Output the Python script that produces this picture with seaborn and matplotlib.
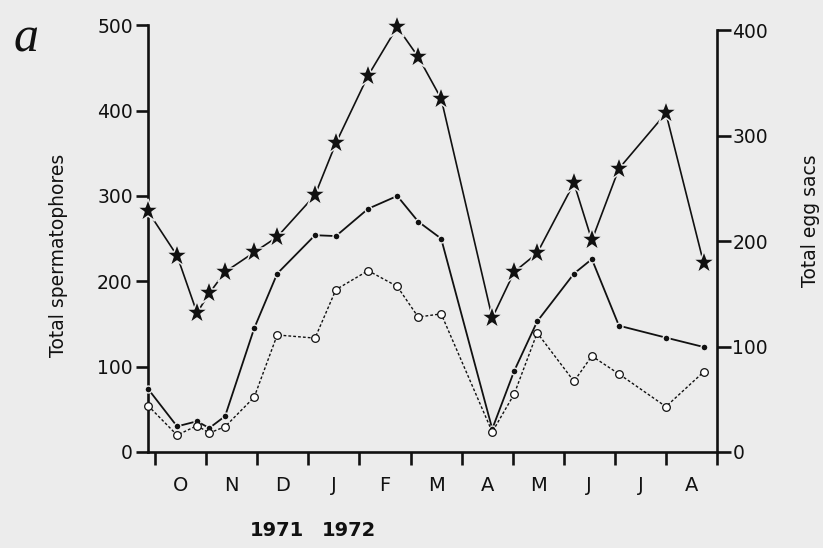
import numpy as np
import pandas as pd
import matplotlib
matplotlib.use("Agg")
import matplotlib.pyplot as plt
import seaborn as sns

# ---- data ----
# sampling positions in months after 1 Oct 1971 (0 = start of October)
sample_month = [-0.14, 0.43, 0.82, 1.06, 1.37, 1.94, 2.39, 3.13, 3.54, 4.17, 4.74,
                5.15, 5.60, 6.60, 7.03, 7.48, 8.20, 8.55, 9.08, 10.0, 10.74]
# star series (left axis, total spermatophores)
star_values = [282, 230, 163, 186, 211, 234, 252, 301, 362, 441, 498,
               463, 414, 157, 211, 233, 315, 248, 332, 397, 221]
# filled-circle series (left axis, total spermatophores)
filled_values = [74, 30, 36, 28, 42, 145, 209, 254, 253, 285, 300,
                 270, 250, 27, 95, 153, 209, 226, 148, 134, 123]
# open-circle series (right axis, total egg sacs)
open_values = [44, 16, 25, 18, 24, 52, 111, 108, 154, 172, 157,
               128, 131, 19, 55, 113, 67, 91, 74, 43, 76]

month_labels = ["O", "N", "D", "J", "F", "M", "A", "M", "J", "J", "A"]
left_ticks = [0, 100, 200, 300, 400, 500]
right_ticks = [0, 100, 200, 300, 400]
year_labels = ["1971", "1972"]

BG = "#ececec"
INK = "#111111"

sns.set_theme(style="ticks")
plt.rcParams["font.family"] = ["DejaVu Sans"]

df = pd.DataFrame({"month": sample_month, "stars": star_values,
                   "filled": filled_values, "open": open_values})

fig = plt.figure(figsize=(8.23, 5.48), dpi=100, facecolor=BG)
ax = fig.add_axes([0.1798, 0.1752, 0.6914, 0.7865])
ax.set_facecolor(BG)
ax2 = ax.twinx()
ax2.set_facecolor("none")

LEFT_TOP = 505
RATIO = 1.2354  # left units per right unit
ax.set_ylim(0, LEFT_TOP)
ax2.set_ylim(0, LEFT_TOP / RATIO)
ax.set_xlim(-0.14, 11.0)

sns.lineplot(data=df, x="month", y="stars", ax=ax, color=INK, linewidth=1.2,
             marker="*", markersize=17, markerfacecolor=INK,
             markeredgecolor=BG, markeredgewidth=1.1, clip_on=False, zorder=4)
sns.lineplot(data=df, x="month", y="filled", ax=ax, color=INK, linewidth=1.3,
             marker="o", markersize=5, markerfacecolor=INK,
             markeredgecolor=BG, markeredgewidth=1.0, clip_on=False, zorder=4)
sns.lineplot(data=df, x="month", y="open", ax=ax2, color=INK, linewidth=1.0,
             linestyle=(0, (2.0, 1.5)), marker="o", markersize=5.5,
             markerfacecolor="white", markeredgecolor=INK, markeredgewidth=0.9,
             clip_on=False, zorder=4)

# spines
for a in (ax, ax2):
    a.spines["top"].set_visible(False)
ax.spines["right"].set_visible(False)
ax2.spines["left"].set_visible(False)
ax2.spines["bottom"].set_visible(False)
for s in ("left", "bottom"):
    ax.spines[s].set_linewidth(1.9)
    ax.spines[s].set_color(INK)
ax2.spines["right"].set_linewidth(1.9)
ax2.spines["right"].set_color(INK)
ax.spines["left"].set_bounds(0, 500)
ax2.spines["right"].set_bounds(0, 400)

# y ticks
ax.set_yticks(left_ticks)
ax.tick_params(axis="y", direction="out", length=9, width=1.9, color=INK,
               labelsize=13.5, labelcolor=INK, pad=2)
ax2.set_yticks(right_ticks)
ax2.tick_params(axis="y", direction="out", length=10, width=1.9, color=INK,
                labelsize=13.5, labelcolor=INK, pad=1)

# x ticks: month boundaries, labels centred in months
ax.set_xticks(np.arange(0, 12, 1))
ax.set_xticklabels([])
ax.set_xticks(np.arange(0.5, 11, 1), minor=True)
ax.set_xticklabels(month_labels, minor=True)
ax.tick_params(axis="x", which="major", direction="out", length=9, width=1.9,
               color=INK)
ax.tick_params(axis="x", which="minor", length=0, pad=17, labelsize=14,
               labelcolor=INK)

ax.set_xlabel("")
ax.set_ylabel("Total spermatophores", fontsize=13.5, color=INK)
ax.yaxis.label.set_va("center")
ax.yaxis.set_label_coords(-0.158, 0.457)
ax2.set_ylabel("Total egg sacs", fontsize=13.5, color=INK, rotation=90)
ax2.yaxis.label.set_va("center")
ax2.yaxis.set_label_coords(1.165, 0.536)

fig.text(277 / 823, 1 - 531 / 548, year_labels[0], ha="center", va="center",
         fontsize=14, fontweight="bold", color=INK)
fig.text(349 / 823, 1 - 531 / 548, year_labels[1], ha="center", va="center",
         fontsize=14, fontweight="bold", color=INK)
fig.text(14 / 823, 1 - 52 / 548, "a", family=["Liberation Serif", "DejaVu Serif"],
         style="italic", fontsize=36, va="baseline", ha="left", color=INK)

fig.savefig("out.png", dpi=100, facecolor=BG)
